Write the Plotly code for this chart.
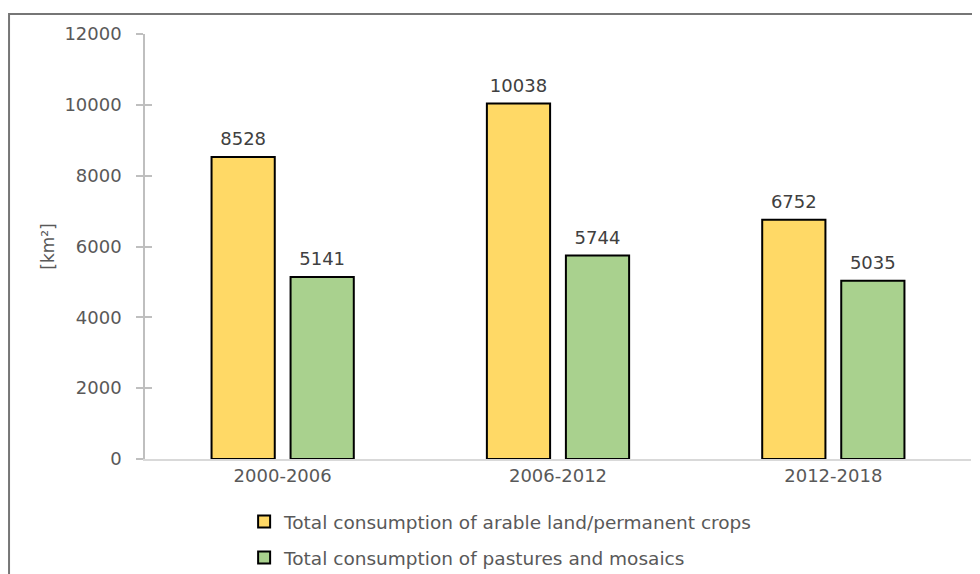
import plotly.graph_objects as go

categories = ["2000-2006", "2006-2012", "2012-2018"]
arable = [8528, 10038, 6752]
pastures = [5141, 5744, 5035]
series_names = [
    "Total consumption of arable land/permanent crops",
    "Total consumption of pastures and mosaics",
]
y_ticks = [0, 2000, 4000, 6000, 8000, 10000, 12000]

FONT = "DejaVu Sans"
GRAY = "#595959"

fig = go.Figure()
fig.add_trace(go.Bar(
    x=categories, y=arable, name=series_names[0], legendgroup="a", offsetgroup="a",
    marker=dict(color="#FFD966", line=dict(color="black", width=2)),
))
fig.add_trace(go.Bar(
    x=categories, y=pastures, name=series_names[1], legendgroup="b", offsetgroup="b",
    marker=dict(color="#A9D18E", line=dict(color="black", width=2)),
))
# data labels, aligned with the grouped bars (on the companion axis y2,
# which also draws the inside half of the crossing ticks)
for vals, grp in ((arable, "a"), (pastures, "b")):
    fig.add_trace(go.Scatter(
        x=categories, y=vals, mode="markers+text", offsetgroup=grp, yaxis="y2",
        text=[str(v) for v in vals], textposition="top center",
        textfont=dict(family=FONT, size=18, color="#404040"),
        marker=dict(size=10, color="rgba(0,0,0,0)", line=dict(width=0)),
        showlegend=False, hoverinfo="skip", cliponaxis=False,
    ))

fig.update_layout(
    width=972, height=566,
    margin=dict(l=137, r=9, t=26, b=115, autoexpand=False),
    paper_bgcolor="white", plot_bgcolor="white",
    font=dict(family=FONT, color=GRAY, size=18),
    barmode="group", bargap=0.426, bargroupgap=0.2,
    scattermode="group", scattergap=0.426,
    showlegend=True,
    legend=dict(
        orientation="v", x=0.12, xanchor="left", y=-0.1035, yanchor="top",
        font=dict(family=FONT, size=18.5, color=GRAY),
        tracegroupgap=9, bgcolor="rgba(0,0,0,0)",
    ),
    xaxis=dict(
        showline=True, linecolor="#D9D9D9", linewidth=1.5, automargin=False,
        ticks="", showgrid=False, zeroline=False,
        tickfont=dict(family=FONT, size=18, color=GRAY),
    ),
    yaxis=dict(
        range=[0, 12000], tickvals=y_ticks, ticktext=[str(v) for v in y_ticks],
        showline=True, linecolor="#BFBFBF", linewidth=1.5, automargin=False,
        ticks="outside", ticklen=7, tickcolor="#BFBFBF", tickwidth=1.5,
        showgrid=False, zeroline=False,
        tickfont=dict(family=FONT, size=18, color=GRAY),
        ticklabelstandoff=11,
        title=dict(text="[km²]", font=dict(family=FONT, size=17, color=GRAY), standoff=5),
    ),
    yaxis2=dict(
        overlaying="y", side="left", anchor="x", automargin=False,
        range=[0, 12000], tickvals=y_ticks,
        ticks="inside", ticklen=7, tickcolor="#BFBFBF", tickwidth=1.5,
        showticklabels=False, showline=False, showgrid=False, zeroline=False,
    ),
)

# outer chart frame (extends past the bottom and right of the view)
fig.add_shape(type="rect", xref="paper", yref="paper",
              x0=-0.1646, x1=1.2, y0=-0.5, y1=1.047,
              line=dict(color="#767676", width=2), fillcolor="rgba(0,0,0,0)",
              layer="below")

fig.write_html("out.html")
